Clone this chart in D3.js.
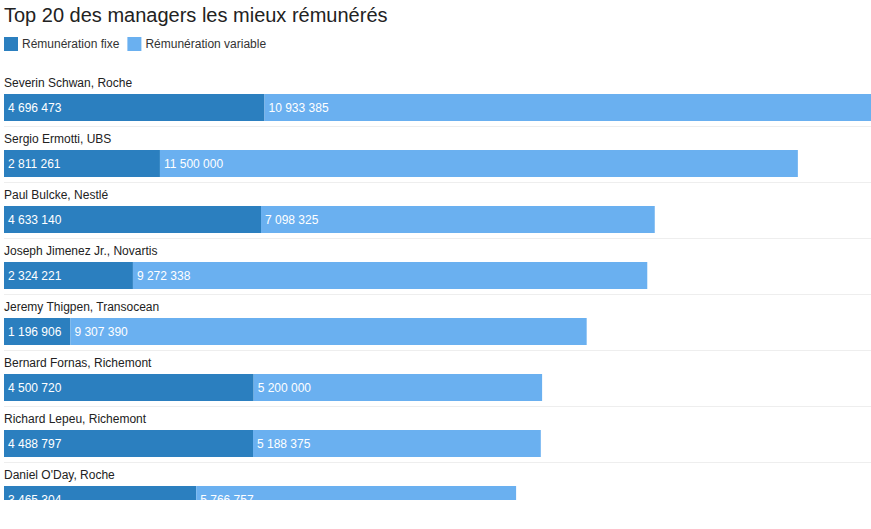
<!DOCTYPE html>
<html>
<head>
<meta charset="utf-8">
<title>Top 20</title>
<script src="https://cdn.jsdelivr.net/npm/d3@7"></script>
<style>
body{margin:0;background:#fff;font-family:Arial,"Liberation Sans",sans-serif;}
</style>
</head>
<body>
<svg id="chart" width="871" height="529"></svg>
<script>
var managers = ["Severin Schwan, Roche","Sergio Ermotti, UBS","Paul Bulcke, Nestlé","Joseph Jimenez Jr., Novartis","Jeremy Thigpen, Transocean","Bernard Fornas, Richemont","Richard Lepeu, Richemont","Daniel O'Day, Roche"];
var fixe = [4696473,2811261,4633140,2324221,1196906,4500720,4488797,3465304];
var variable = [10933385,11500000,7098325,9272338,9307390,5200000,5188375,5766757];
var seriesNames = ["Rémunération fixe","Rémunération variable"];
var colors = ["#2b7fbf","#6ab0f0"];

var svg = d3.select("#chart");
var fmt = function(v){ return d3.format(",")(v).replace(/,/g," "); };

svg.append("text").attr("x",4).attr("y",22).attr("font-size",20).attr("fill","#222")
  .text("Top 20 des managers les mieux rémunérés");

// legend
var lx = 4;
seriesNames.forEach(function(n,i){
  svg.append("rect").attr("x",lx).attr("y",37).attr("width",14).attr("height",14).attr("fill",colors[i]);
  var t = svg.append("text").attr("x",lx+18).attr("y",48).attr("font-size",12).attr("fill","#333").text(n);
  lx += 18 + t.node().getComputedTextLength() + 8;
});

var x = d3.scaleLinear().domain([0,d3.max(fixe.map(function(f,i){return f+variable[i];}))]).range([4,871]);
var y = d3.scaleBand().domain(d3.range(managers.length)).range([66,66+56*managers.length]);

svg.append("clipPath").attr("id","clip").append("rect").attr("x",0).attr("y",0).attr("width",871).attr("height",500);
var g = svg.append("g").attr("clip-path","url(#clip)");

var rows = g.selectAll("g.row").data(managers).enter().append("g")
  .attr("transform",function(d,i){return "translate(0,"+y(i)+")";});

rows.append("text").attr("x",4).attr("y",21).attr("font-size",12).attr("fill","#222").text(function(d){return d;});
rows.append("rect").attr("x",x(0)).attr("y",28).attr("height",27)
  .attr("width",function(d,i){return x(fixe[i])-x(0);}).attr("fill",colors[0]);
rows.append("rect").attr("x",function(d,i){return x(fixe[i]);}).attr("y",28).attr("height",27)
  .attr("width",function(d,i){return x(fixe[i]+variable[i])-x(fixe[i]);}).attr("fill",colors[1]);
rows.append("text").attr("x",8).attr("y",46).attr("font-size",12).attr("fill","#fff")
  .text(function(d,i){return fmt(fixe[i]);});
rows.append("text").attr("x",function(d,i){return x(fixe[i])+4;}).attr("y",46).attr("font-size",12).attr("fill","#fff")
  .text(function(d,i){return fmt(variable[i]);});
rows.append("line").attr("x1",4).attr("x2",871).attr("y1",60.5).attr("y2",60.5)
  .attr("stroke","#eee").attr("stroke-width",1);
</script>
</body>
</html>
